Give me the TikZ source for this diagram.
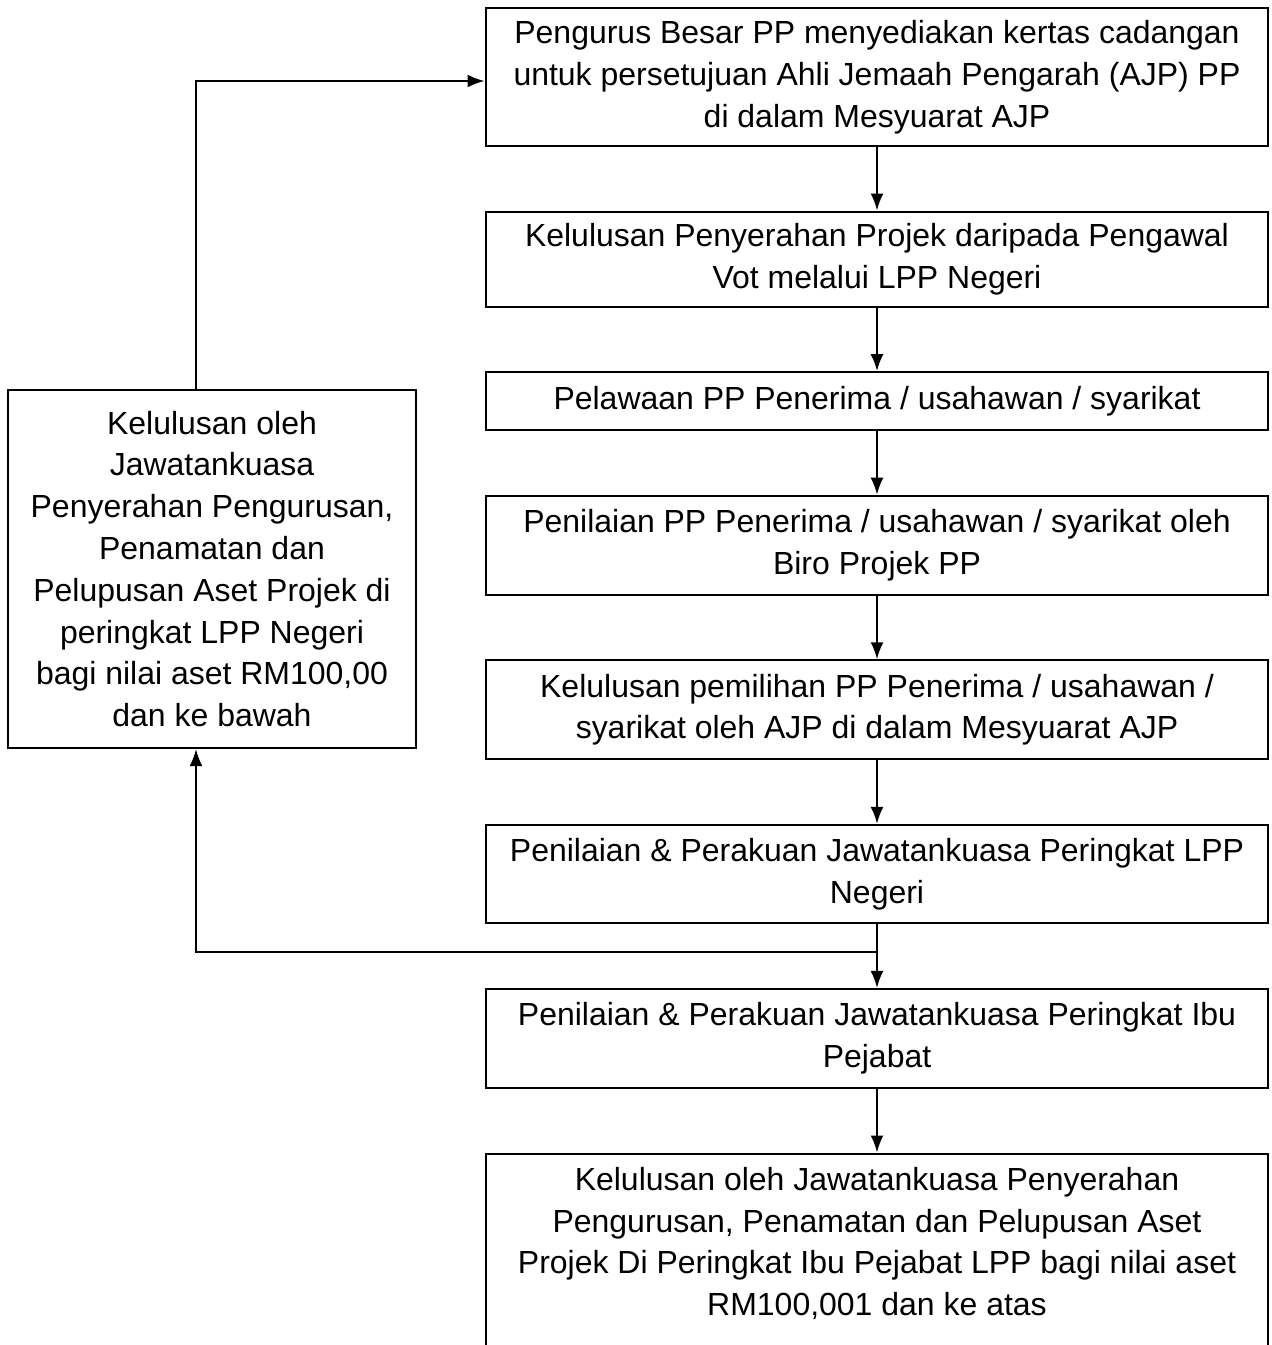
\documentclass[tikz,border=0pt]{standalone}
\usepackage{fontspec}
\setmainfont{Liberation Sans}
\usepackage{tikz}
\usetikzlibrary{positioning,arrows.meta}

\begin{document}
\begin{tikzpicture}[x=0.02cm, y=-0.02cm, font=\fontsize{18.2}{23.8}\selectfont,
  node distance=1.27cm,
  box/.style={draw, line width=1.2pt, align=center, inner sep=2pt,
              minimum width=15.66cm},
  arr/.style={-{Latex[length=0.34cm, width=0.26cm]}, line width=1.2pt}]
\clip (0,0) rectangle (1271,1345);
\node[box, minimum height=2.76cm] (pengurus) at (877,77)
  {Pengurus Besar PP menyediakan kertas cadangan\\
   untuk persetujuan Ahli Jemaah Pengarah (AJP) PP\\
   di dalam Mesyuarat AJP};
\node[box, minimum height=1.9cm, below=of pengurus] (serah)
  {Kelulusan Penyerahan Projek daripada Pengawal\\Vot melalui LPP Negeri};
\node[box, minimum height=1.16cm, below=of serah] (pelawaan)
  {Pelawaan PP Penerima / usahawan / syarikat};
\node[box, minimum height=1.98cm, below=of pelawaan] (nilai)
  {Penilaian PP Penerima / usahawan / syarikat oleh\\Biro Projek PP};
\node[box, minimum height=1.98cm, below=of nilai] (pilih)
  {Kelulusan pemilihan PP Penerima / usahawan /\\syarikat oleh AJP di dalam Mesyuarat AJP};
\node[box, minimum height=1.97cm, below=of pilih] (negeri)
  {Penilaian \& Perakuan Jawatankuasa Peringkat LPP\\Negeri};
\node[box, minimum height=1.98cm, below=of negeri] (ibu)
  {Penilaian \& Perakuan Jawatankuasa Peringkat Ibu\\Pejabat};
\node[box, minimum height=4.6cm, below=of ibu] (atas)
  {Kelulusan oleh Jawatankuasa Penyerahan\\
   Pengurusan, Penamatan dan Pelupusan Aset\\
   Projek Di Peringkat Ibu Pejabat LPP bagi nilai aset\\
   RM100,001 dan ke atas\\ \strut};
\node[box, minimum width=8.16cm, minimum height=7.16cm] (bawah) at (212,569)
  {Kelulusan oleh\\Jawatankuasa\\Penyerahan Pengurusan,\\Penamatan dan\\
   Pelupusan Aset Projek di\\peringkat LPP Negeri\\bagi nilai aset RM100,00\\
   dan ke bawah};
\coordinate (split) at (877,952);
\draw[arr] (pengurus) -- (serah);
\draw[arr] (serah) -- (pelawaan);
\draw[arr] (pelawaan) -- (nilai);
\draw[arr] (nilai) -- (pilih);
\draw[arr] (pilih) -- (negeri);
\draw[arr] (negeri) -- (ibu);
\draw[arr] (ibu) -- (atas);
\draw[arr] (split) -| ([xshift=-0.32cm]bawah.south);
\draw[arr] ([xshift=-0.32cm]bawah.north) |- ([yshift=-0.08cm]pengurus.west);
\end{tikzpicture}
\end{document}
